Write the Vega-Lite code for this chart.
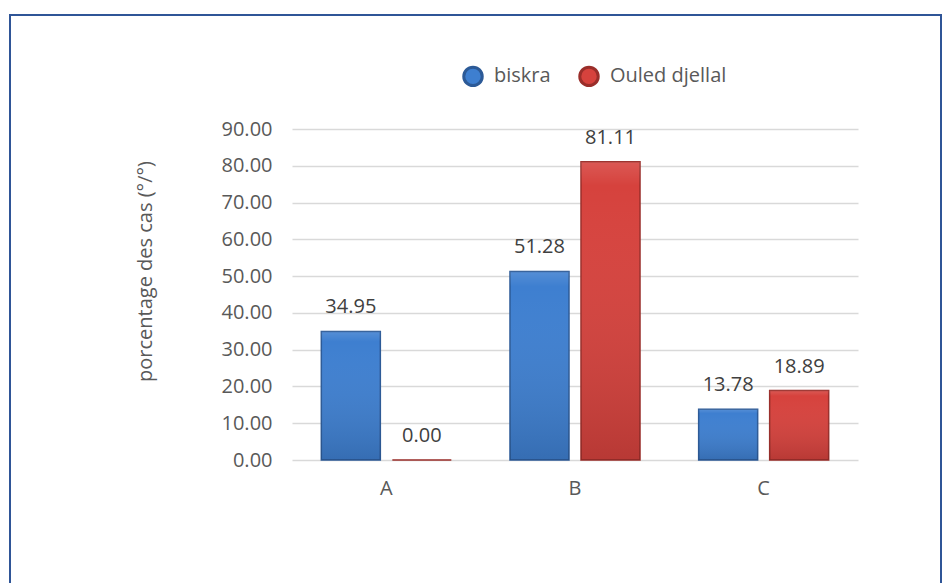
{
  "$schema": "https://vega.github.io/schema/vega-lite/v6.json",
  "width": 931,
  "height": 600,
  "autosize": {"type": "none"},
  "padding": {"left": 10, "top": 15, "right": 2, "bottom": 0},
  "background": "white",
  "config": {
    "view": {"stroke": "#2F5597", "strokeWidth": 2},
    "font": "Open Sans",
    "legend": {
      "orient": "none",
      "legendX": 452,
      "legendY": 50,
      "direction": "horizontal",
      "symbolType": "circle",
      "symbolSize": 340,
      "symbolStrokeWidth": 3,
      "labelFontSize": 20,
      "labelColor": "#595959",
      "columnPadding": 22,
      "labelOffset": 10
    }
  },
  "data": {
    "values": [
      {"category": "A", "series": "biskra", "value": 34.95},
      {"category": "A", "series": "Ouled djellal", "value": 0.0},
      {"category": "B", "series": "biskra", "value": 51.28},
      {"category": "B", "series": "Ouled djellal", "value": 81.11},
      {"category": "C", "series": "biskra", "value": 13.78},
      {"category": "C", "series": "Ouled djellal", "value": 18.89}
    ]
  },
  "encoding": {
    "x": {
      "field": "category",
      "type": "nominal",
      "scale": {"range": [282, 848], "paddingInner": 0, "paddingOuter": 0},
      "axis": {
        "title": null,
        "offset": -155,
        "domain": false,
        "ticks": false,
        "grid": false,
        "labelAngle": 0,
        "labelPadding": 18,
        "labelFontSize": 20,
        "labelColor": "#595959"
      }
    },
    "xOffset": {
      "field": "series",
      "type": "nominal",
      "sort": ["biskra", "Ouled djellal"],
      "scale": {"paddingInner": 0.169, "paddingOuter": 0.413}
    },
    "y": {
      "field": "value",
      "type": "quantitative",
      "scale": {"domain": [0, 90], "range": [445, 114]},
      "axis": {
        "title": "porcentage des cas (°/°)",
        "values": [0, 10, 20, 30, 40, 50, 60, 70, 80, 90],
        "format": ".2f",
        "offset": -282,
        "domain": false,
        "ticks": false,
        "grid": true,
        "gridColor": "#D9D9D9",
        "gridWidth": 1.5,
        "labelPadding": 20,
        "labelFontSize": 20,
        "labelColor": "#595959",
        "titleFontSize": 20,
        "titleFontWeight": "normal",
        "titleColor": "#595959",
        "titleX": -147,
        "titleY": 256,
        "titleAngle": -90,
        "titleAlign": "center",
        "titleBaseline": "middle"
      }
    }
  },
  "layer": [
    {
      "mark": {"type": "bar", "strokeWidth": 1.5},
      "encoding": {
        "fill": {
          "field": "series",
          "type": "nominal",
          "sort": ["biskra", "Ouled djellal"],
          "scale": {"domain": ["biskra", "Ouled djellal"], "range": ["#3E7FD0", "#D6423D"]},
          "legend": {"title": null}
        },
        "stroke": {
          "field": "series",
          "type": "nominal",
          "sort": ["biskra", "Ouled djellal"],
          "scale": {"domain": ["biskra", "Ouled djellal"], "range": ["#2C5A97", "#9A2E2A"]},
          "legend": {"title": null}
        }
      }
    },
    {
      "mark": {
        "type": "bar",
        "strokeWidth": 0,
        "fill": {
          "gradient": "linear",
          "x1": 0, "y1": 0, "x2": 0, "y2": 1,
          "stops": [
            {"offset": 0, "color": "rgba(255,255,255,0.12)"},
            {"offset": 0.08, "color": "rgba(255,255,255,0.0)"},
            {"offset": 1, "color": "rgba(0,0,0,0.14)"}
          ]
        }
      },
      "encoding": {}
    },
    {
      "mark": {"type": "text", "dy": -18, "baseline": "alphabetic", "fontSize": 20, "color": "#404040"},
      "encoding": {
        "text": {"field": "value", "type": "quantitative", "format": ".2f"}
      }
    }
  ]
}
